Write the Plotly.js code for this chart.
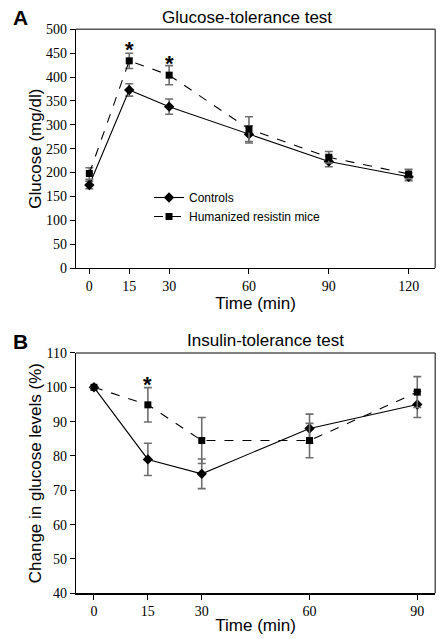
<!DOCTYPE html>
<html><head><meta charset="utf-8">
<script src="https://cdn.plot.ly/plotly-3.0.1.min.js"></script>
<style>html,body{margin:0;padding:0;background:#fff}#c{width:443px;height:639px}</style>
</head><body><div id="c"></div>
<script>
// Panel A: glucose tolerance
const gttTime = [0, 15, 30, 60, 90, 120];
const gttControls = [174, 373, 338, 280, 223, 191];
const gttControlsErr = [8, 13, 16, 18, 11, 8];
const gttHumanized = [198, 434, 404, 291, 232, 197];
const gttHumanizedErr = [12, 16, 20, 26, 12, 10];
const gttStars = [[15, 469], [30, 438]];
// Panel B: insulin tolerance
const ittTime = [0, 15, 30, 60, 90];
const ittControls = [100, 79, 74.8, 88, 95];
const ittControlsErr = [0, 4.7, 4.3, 4.2, 3.8];
const ittHumanized = [100, 94.9, 84.5, 84.5, 98.6];
const ittHumanizedErr = [0, 5, 6.7, 5, 4.5];
const ittStars = [[15, 102.2]];
const names = ['Controls', 'Humanized resistin mice'];

const errStyle = {type:'data', visible:true, color:'#6e6e6e', thickness:1.6, width:4};
function tr(x, y, e, name, sym, dash, xa, ya, show){
  return {x:x, y:y, name:name, type:'scatter', mode:'lines+markers', xaxis:xa, yaxis:ya,
    showlegend:show, line:{color:'#000', width:1.1, dash:dash},
    marker:{symbol:sym, size: sym==='square'?7:8, color:'#000'},
    error_y:Object.assign({array:e}, errStyle), cliponaxis:false};
}
const data = [
  tr(gttTime, gttControls, gttControlsErr, names[0], 'diamond', 'solid', 'x', 'y', true),
  tr(gttTime, gttHumanized, gttHumanizedErr, names[1], 'square', 'dash', 'x', 'y', true),
  tr(ittTime, ittControls, ittControlsErr, names[0], 'diamond', 'solid', 'x2', 'y2', false),
  tr(ittTime, ittHumanized, ittHumanizedErr, names[1], 'square', 'dash', 'x2', 'y2', false)
];
const SERIF = 'Liberation Serif';
const sans = 'Liberation Sans';
function serif(){ return {family:SERIF, size:14, color:'#000'}; }
function xax(dom, rng, vals, anchor, so){
  return {domain:dom, range:rng, tickvals:vals, ticktext:vals.map(String), anchor:anchor,
    showgrid:false, zeroline:false, showline:true, linecolor:'#000', linewidth:1.2,
    ticks:'outside', ticklen:5, tickcolor:'#000', tickfont:serif(),
    title:{text:'Time (min)', font:{family:sans, size:17, color:'#000'}, standoff:so}};
}
function yax(dom, rng, dt, anchor, title){
  return {domain:dom, range:rng, dtick:dt, tick0:0, anchor:anchor,
    showgrid:false, zeroline:false, showline:true, linecolor:'#000', linewidth:1.2,
    ticks:'outside', ticklen:5, tickcolor:'#000', tickfont:serif(),
    title:{text:title, font:{family:sans, size:17, color:'#000'}, standoff:0}};
}
const xd = [0.1716, 0.9825];
const yA = [0.5806, 0.9541], yB = [0.0715, 0.4476];
const ann = [];
gttStars.forEach(s => ann.push({x:s[0], y:s[1], xref:'x', yref:'y', text:'<b>*</b>', showarrow:false,
  font:{family:sans, size:22, color:'#000'}, yshift:-5}));
ittStars.forEach(s => ann.push({x:s[0], y:s[1], xref:'x2', yref:'y2', text:'<b>*</b>', showarrow:false,
  font:{family:sans, size:22, color:'#000'}, yshift:-5}));
function pa(x, y, text, size){
  return {xref:'paper', yref:'paper', x:x/443, y:1-y/639, xanchor:'center', yanchor:'middle',
    text:text, showarrow:false, font:{family:sans, size:size, color:'#000'}};
}
ann.push(pa(247, 17, 'Glucose-tolerance test', 17));
ann.push(pa(265, 340, 'Insulin-tolerance test', 17));
ann.push(pa(20, 17, '<b>A</b>', 21));
ann.push(pa(20, 342, '<b>B</b>', 21));
const shapes = [];
[yA, yB].forEach(dm => {
  shapes.push({type:'line', xref:'paper', yref:'paper', x0:xd[0], x1:xd[1], y0:dm[1], y1:dm[1], line:{color:'#555', width:1.5}});
  shapes.push({type:'line', xref:'paper', yref:'paper', x0:xd[1], x1:xd[1], y0:dm[0], y1:dm[1], line:{color:'#555', width:1.5}});
});
const layout = {
  width:443, height:639, margin:{l:0, r:0, t:0, b:0}, paper_bgcolor:'#fff', plot_bgcolor:'#fff',
  xaxis: xax(xd, [-5, 130], gttTime, 'y', 4),
  yaxis: yax(yA, [0, 500], 50, 'x', 'Glucose (mg/dl)'),
  xaxis2: xax(xd, [-5, 95], ittTime, 'y2', 0),
  yaxis2: yax(yB, [40, 110], 10, 'x2', 'Change in glucose levels (%)'),
  legend:{x:149/443, y:1-183/639, xanchor:'left', yanchor:'top', bgcolor:'rgba(0,0,0,0)',
    font:{family:sans, size:12, color:'#000'}, tracegroupgap:0, itemwidth:30},
  annotations:ann, shapes:shapes, showlegend:true
};
Plotly.newPlot('c', data, layout, {displayModeBar:false, staticPlot:true});
</script></body></html>
